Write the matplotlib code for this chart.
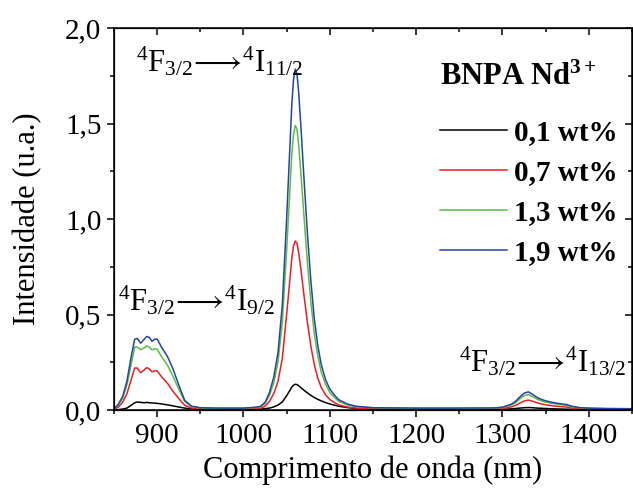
import matplotlib
matplotlib.use('Agg')
import matplotlib.pyplot as plt
from matplotlib.ticker import MultipleLocator, FuncFormatter

plt.rcParams['font.family'] = ['Liberation Serif', 'DejaVu Serif']
plt.rcParams['mathtext.fontset'] = 'custom'
plt.rcParams['mathtext.rm'] = 'Liberation Serif'
plt.rcParams['mathtext.it'] = 'Liberation Serif:italic'
plt.rcParams['mathtext.bf'] = 'Liberation Serif:bold'

# emission spectra (wavelength in nm, intensity in a.u.)
wavelength = [850, 855, 860, 865, 870, 874, 877, 881, 885, 888, 891, 894, 897, 900,
              905, 912, 918, 926, 932, 940, 950, 970, 1000, 1015, 1020, 1025, 1030,
              1035, 1040, 1045, 1050, 1053, 1056, 1058, 1060, 1062, 1064, 1067, 1070,
              1074, 1078, 1082, 1086, 1090, 1095, 1100, 1105, 1110, 1120, 1130, 1150,
              1200, 1250, 1290, 1300, 1310, 1315, 1320, 1325, 1330, 1335, 1340, 1345,
              1350, 1360, 1370, 1375, 1380, 1390, 1400, 1420, 1450]

i_01 = [0.0, 0.002, 0.005, 0.01, 0.025, 0.038, 0.042, 0.04, 0.038, 0.04, 0.038, 0.037,
        0.036, 0.035, 0.032, 0.027, 0.022, 0.015, 0.01, 0.006, 0.004, 0.003, 0.003,
        0.004, 0.005, 0.007, 0.01, 0.016, 0.026, 0.042, 0.075, 0.097, 0.12, 0.13, 0.135,
        0.133, 0.127, 0.115, 0.104, 0.09, 0.077, 0.066, 0.056, 0.048, 0.039, 0.032, 0.026,
        0.02, 0.013, 0.008, 0.005, 0.003, 0.003, 0.003, 0.004, 0.006, 0.008, 0.01,
        0.012, 0.013, 0.012, 0.01, 0.009, 0.008, 0.006, 0.005, 0.004, 0.004, 0.003,
        0.003, 0.002, 0.002]

i_07 = [0.003, 0.015, 0.04, 0.085, 0.16, 0.22, 0.22, 0.195, 0.21, 0.222, 0.215, 0.2,
        0.205, 0.205, 0.175, 0.14, 0.1, 0.055, 0.025, 0.01, 0.006, 0.005, 0.005, 0.007,
        0.01, 0.02, 0.045, 0.085, 0.15, 0.27, 0.5, 0.645, 0.795, 0.86, 0.885, 0.873,
        0.823, 0.72, 0.605, 0.46, 0.337, 0.238, 0.169, 0.119, 0.08, 0.055, 0.04, 0.027,
        0.016, 0.01, 0.006, 0.005, 0.005, 0.006, 0.008, 0.016, 0.024, 0.036, 0.047,
        0.052, 0.046, 0.038, 0.032, 0.027, 0.021, 0.017, 0.015, 0.01, 0.006, 0.005,
        0.004, 0.004]

i_13 = [0.004, 0.025, 0.06, 0.13, 0.24, 0.33, 0.33, 0.315, 0.325, 0.335, 0.33, 0.315,
        0.32, 0.32, 0.28, 0.235, 0.18, 0.1, 0.045, 0.018, 0.011, 0.009, 0.009, 0.013,
        0.018, 0.035, 0.075, 0.14, 0.25, 0.46, 0.835, 1.085, 1.34, 1.445, 1.49, 1.47,
        1.385, 1.21, 1.02, 0.775, 0.57, 0.4, 0.285, 0.2, 0.135, 0.092, 0.067, 0.046,
        0.027, 0.018, 0.011, 0.009, 0.009, 0.01, 0.013, 0.026, 0.038, 0.058, 0.075,
        0.081, 0.07, 0.057, 0.048, 0.041, 0.033, 0.027, 0.024, 0.017, 0.011, 0.009,
        0.007, 0.006]

i_19 = [0.005, 0.03, 0.07, 0.15, 0.28, 0.37, 0.375, 0.35, 0.37, 0.385, 0.38, 0.36,
        0.37, 0.372, 0.33, 0.28, 0.22, 0.12, 0.05, 0.02, 0.012, 0.01, 0.01, 0.015,
        0.02, 0.04, 0.09, 0.17, 0.3, 0.55, 1.0, 1.3, 1.6, 1.73, 1.785, 1.76, 1.66, 1.45,
        1.22, 0.93, 0.68, 0.48, 0.34, 0.24, 0.16, 0.11, 0.08, 0.055, 0.032, 0.02, 0.012,
        0.01, 0.01, 0.011, 0.015, 0.03, 0.045, 0.068, 0.088, 0.095, 0.082, 0.066, 0.056,
        0.048, 0.038, 0.031, 0.028, 0.02, 0.012, 0.01, 0.008, 0.007]

labels = ['0,1 wt%', '0,7 wt%', '1,3 wt%', '1,9 wt%']
colors = ['black', '#ee1c24', '#5dbb46', '#2346a0']

fig = plt.figure(figsize=(6.33, 5.01), dpi=100)
ax = fig.add_axes([0.180, 0.1816, 0.8184, 0.7625])

for y, lab, c in zip([i_01, i_07, i_13, i_19], labels, colors):
    ax.plot(wavelength, y, color=c, lw=1.1, label=lab)

ax.set_xlim(850, 1450)
ax.set_ylim(0, 2.0)
ax.xaxis.set_major_locator(MultipleLocator(100))
ax.xaxis.set_minor_locator(MultipleLocator(50))
ax.yaxis.set_major_locator(MultipleLocator(0.5))
ax.yaxis.set_minor_locator(MultipleLocator(0.25))
ax.yaxis.set_major_formatter(FuncFormatter(lambda v, p: ('%.1f' % v).replace('.', ',')))
ax.tick_params(which='both', direction='out', labelsize=21, width=1.1, pad=4,
               top=False, right=False)
ax.tick_params(which='major', length=5)
ax.tick_params(which='minor', length=3)
for s in ax.spines.values():
    s.set_linewidth(1.1)

# inward ticks on the opposite sides
for twin in (ax.twinx(), ax.twiny()):
    twin.set_xlim(ax.get_xlim())
    twin.set_ylim(ax.get_ylim())
    twin.xaxis.set_major_locator(MultipleLocator(100))
    twin.xaxis.set_minor_locator(MultipleLocator(50))
    twin.yaxis.set_major_locator(MultipleLocator(0.5))
    twin.yaxis.set_minor_locator(MultipleLocator(0.25))
    twin.tick_params(which='both', direction='in', width=1.1,
                     labelright=False, labeltop=False, labelleft=False, labelbottom=False)
    twin.tick_params(which='major', length=5)
    twin.tick_params(which='minor', length=3)

ax.set_xlabel('Comprimento de onda (nm)', fontsize=22, labelpad=5)
ax.set_ylabel('Intensidade (u.a.)', fontsize=22, labelpad=16)

# transition labels
ax.text(876, 1.77, r'$^4$F$_{3/2}\!\longrightarrow\!^4$I$_{11/2}$', fontsize=22)
ax.text(855, 0.52, r'$^4$F$_{3/2}\!\longrightarrow\!^4$I$_{9/2}$', fontsize=22)
ax.text(1250, 0.2, r'$^4$F$_{3/2}\!\longrightarrow\!^4$I$_{13/2}$', fontsize=22)

ax.text(0.629, 0.85, r'$\mathbf{BNPA\ Nd^{3+}}$', fontsize=22,
        transform=ax.transAxes, ha='left', va='baseline')
leg = ax.legend(loc='upper left', bbox_to_anchor=(0.629, 0.762), frameon=False,
                prop={'weight': 'bold', 'size': 21}, handlelength=2.3,
                handletextpad=0.25, labelspacing=0.45, borderpad=0, borderaxespad=0)

fig.savefig('out.png', dpi=100)
